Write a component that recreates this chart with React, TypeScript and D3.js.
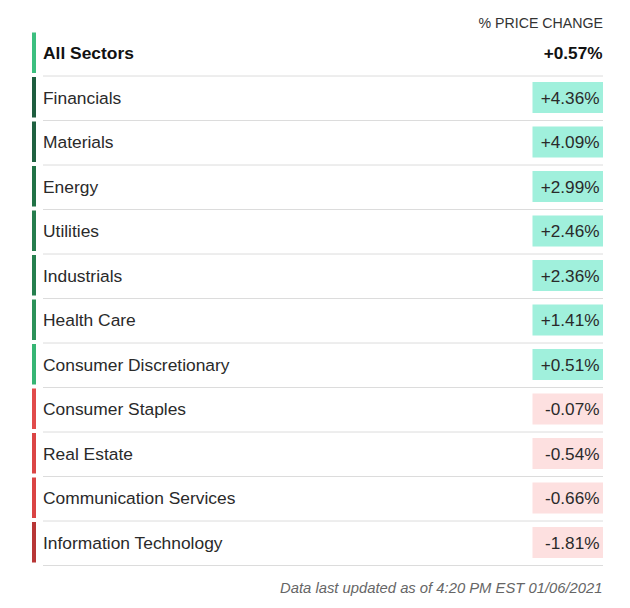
import React from "react";
import * as d3 from "d3";

const headerLabel = "% PRICE CHANGE";
const totalLabel = "All Sectors";
const totalValue = 0.57;
const sectors = [
  "Financials",
  "Materials",
  "Energy",
  "Utilities",
  "Industrials",
  "Health Care",
  "Consumer Discretionary",
  "Consumer Staples",
  "Real Estate",
  "Communication Services",
  "Information Technology",
];
const changes = [4.36, 4.09, 2.99, 2.46, 2.36, 1.41, 0.51, -0.07, -0.54, -0.66, -1.81];
const footer = "Data last updated as of 4:20 PM EST 01/06/2021";

const W = 630;
const H = 608;
const FONT = "'Liberation Sans', Arial, Helvetica, sans-serif";

const fmt = (v: number) => (v >= 0 ? "+" : "") + v.toFixed(2) + "%";

export default function App() {
  const rows = [totalLabel, ...sectors];
  const vals = [totalValue, ...changes];

  const y = d3
    .scaleBand<string>()
    .domain(rows)
    .range([31, 31 + 44.5 * rows.length])
    .paddingInner(0)
    .paddingOuter(0);

  const greenScale = d3
    .scaleLinear<string>()
    .domain([0.5, 1.4, 2.4, 3.0, 4.4])
    .range(["#36b574", "#2c9259", "#257e4e", "#217246", "#1e5c3f"])
    .clamp(true);
  const redScale = d3
    .scaleLinear<string>()
    .domain([0, 0.7, 1.8])
    .range(["#e24c4c", "#d94343", "#b83636"])
    .clamp(true);

  const barColor = (v: number, i: number) =>
    i === 0 ? "#3cbf7f" : v >= 0 ? greenScale(v) : redScale(-v);

  const lineX0 = 43;
  const lineX1 = 603;
  const bh = y.bandwidth();

  return (
    <div style={{ position: "absolute", left: 0, top: 0, width: W, height: H, background: "#fff" }}>
      <svg width={W} height={H} style={{ display: "block" }} fontFamily={FONT}>
        <rect x={0} y={0} width={W} height={H} fill="#fff" />
        <text x={603} y={28} textAnchor="end" fontSize={14.2} fill="#333">
          {headerLabel}
        </text>
        {rows.map((r, i) => {
          const top = y(r)!;
          const v = vals[i];
          const isTotal = i === 0;
          const cy = top + bh / 2;
          return (
            <g key={r}>
              <rect x={32} y={top + 1.5} width={4} height={bh - 4} fill={barColor(v, i)} />
              <line x1={lineX0} x2={lineX1} y1={top + bh + 0.5} y2={top + bh + 0.5} stroke="#dcdcdc" strokeWidth={1} />
              <text
                x={43}
                y={cy + 6}
                fontSize={17.4}
                fontWeight={isTotal ? 700 : 400}
                fill={isTotal ? "#111" : "#2a2a2a"}
              >
                {r}
              </text>
              {!isTotal && (
                <rect
                  x={532.5}
                  y={top + 6.5}
                  width={70.5}
                  height={31}
                  fill={v >= 0 ? "#a0f0dc" : "#fde0e0"}
                />
              )}
              <text
                x={isTotal ? 602.5 : 599.5}
                y={cy + 6}
                textAnchor="end"
                fontSize={17.2}
                fontWeight={isTotal ? 700 : 400}
                fill={isTotal ? "#111" : "#2a2a2a"}
              >
                {fmt(v)}
              </text>
            </g>
          );
        })}
        <text x={602.5} y={593} textAnchor="end" fontSize={14.8} fontStyle="italic" fill="#666">
          {footer}
        </text>
      </svg>
    </div>
  );
}
